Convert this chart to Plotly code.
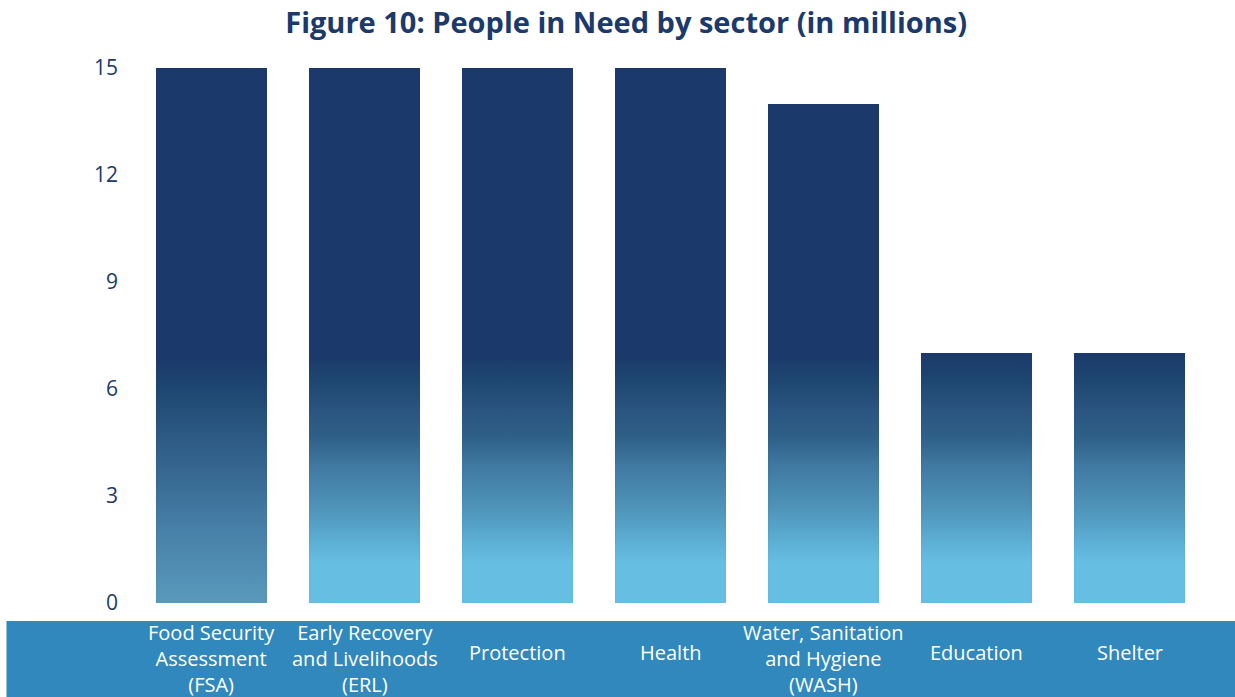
import plotly.graph_objects as go

categories = ["Food Security<br>Assessment<br>(FSA)", "Early Recovery<br>and Livelihoods<br>(ERL)",
              "Protection", "Health", "Water, Sanitation<br>and Hygiene<br>(WASH)", "Education", "Shelter"]
values = [15, 15, 15, 15, 14, 7, 7]
y_ticks = [0, 3, 6, 9, 12, 15]

NAVY = "#1B3A6B"
BAND = "#3088BC"
FONT = "Open Sans"
BAR_W = 0.725

fig = go.Figure()
xs = list(range(len(categories)))

# solid navy bars
fig.add_trace(go.Bar(x=xs, y=values, width=BAR_W, marker=dict(color=NAVY, line=dict(width=0)),
                     hoverinfo="skip", showlegend=False))

# gradient overlay on the lower part of each bar
GRAD_TOP = 6.8
std_scale = [[0.0, "#66BFE2"], [0.085, "#5EB2D8"], [0.27, "#4E93B8"], [0.47, "#3F78A0"],
             [0.60, "#2F6088"], [0.73, "#2A5580"], [0.87, "#1E4670"], [1.0, NAVY]]
fsa_scale = [[0.0, "#5A99BC"], [0.3, "#4780A8"], [0.6, "#33628C"], [0.85, "#1F4A74"], [1.0, NAVY]]
for i, v in enumerate(values):
    top = GRAD_TOP if v > GRAD_TOP + 0.5 else v
    h = BAR_W / 2
    if i == 0:
        scale, start, stop = fsa_scale, 0.0, GRAD_TOP
    else:
        scale, start, stop = std_scale, 1.1, 7.0
    fig.add_trace(go.Scatter(
        x=[i - h, i + h, i + h, i - h, i - h],
        y=[0, 0, top, top, 0],
        mode="lines", line=dict(width=0), fill="toself",
        fillgradient=dict(type="vertical", colorscale=scale, start=start, stop=stop),
        hoverinfo="skip", showlegend=False))

# category labels inside the blue band
for i, c in enumerate(categories):
    multi = "<br>" in c
    fig.add_annotation(x=i, xref="x", y=-0.1035 if multi else -0.092, yref="paper",
                       text=c, showarrow=False, yanchor="middle", xanchor="center",
                       font=dict(family=FONT, size=20, color="white"))

fig.add_shape(type="rect", xref="paper", yref="paper", x0=-0.12, x1=1.03, y0=-0.0336, y1=-0.19,
              fillcolor=BAND, line=dict(width=0), layer="below")

fig.update_layout(
    width=1235, height=697,
    margin=dict(l=135, r=29, t=68, b=94),
    paper_bgcolor="white", plot_bgcolor="white",
    title=dict(text="<b>Figure 10: People in Need by sector (in millions)</b>", x=0.507,
               xref="container", xanchor="center", y=0.967, yanchor="middle",
               font=dict(family=FONT, size=29, color=NAVY)),
    xaxis=dict(range=[-0.5, 6.5], showticklabels=False, showgrid=False, zeroline=False,
               showline=False, fixedrange=True),
    yaxis=dict(range=[0, 15], tickvals=y_ticks, showgrid=False, zeroline=False, showline=False,
               ticklabelstandoff=16, tickfont=dict(family=FONT, size=21, color=NAVY)),
    bargap=0,
)

fig.write_html("out.html")
